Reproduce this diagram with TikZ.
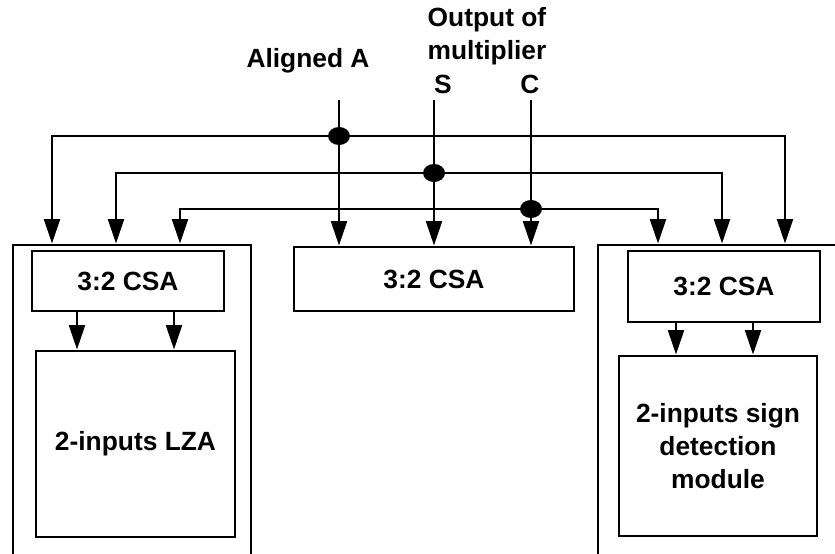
\documentclass[tikz,border=0pt]{standalone}
\usepackage{fontspec}
\setmainfont{Liberation Sans}
\usepackage{tikz}
\usetikzlibrary{arrows.meta}

\begin{document}
\begin{tikzpicture}[x=0.02cm,y=-0.02cm,line width=1.6pt,
	blk/.style={draw,rectangle,inner sep=0pt,align=center,font=\fontsize{15}{18.8}\selectfont\bfseries},
	arr/.style={-{Triangle[length=14pt,width=9pt]}},
	lbl/.style={anchor=base,inner sep=0pt,font=\fontsize{15}{18.8}\selectfont\bfseries}]
	\useasboundingbox (0,0) rectangle (835,554);
	\clip (0,0) rectangle (835,554);
				% outer frames, open at the page edge
				\node[draw,minimum width=4.76cm,minimum height=7.5cm] (lbox) at (132,432.5) {};
				\node[draw,minimum width=6.04cm,minimum height=7.5cm] (rbox) at (749,432.5) {};
				\node[blk,minimum width=3.84cm,minimum height=1.2cm] (lcsa) at (128,281) {3:2 CSA};
				\node[blk,minimum width=3.98cm,minimum height=3.72cm] (lza) at (135.5,444) {2-inputs LZA};
				\node[blk,minimum width=5.6cm,minimum height=1.28cm] (mcsa) at (434,279) {3:2 CSA};
				\node[blk,minimum width=3.84cm,minimum height=1.42cm] (rcsa) at (724,286.5) {3:2 CSA};
				\node[blk,minimum width=3.96cm,minimum height=3.6cm] (sdm) at (718,446) {2-inputs sign\\detection\\module};
				% input labels
				\node[lbl] (tal) at (308,68) {Aligned A};
				\node[lbl] (tout) at (487,27) {Output of};
				\node[lbl] (tmul) at (487,60) {multiplier};
				\node[lbl] (ts) at (443,93) {S};
				\node[lbl] (tc) at (530,93) {C};
				\coordinate (ina) at (339,100);
				\coordinate (ins) at (434,100);
				\coordinate (inc) at (531,100);
				\coordinate (ja) at (339,136);
				\coordinate (js) at (434,173);
				\coordinate (jc) at (531,209);
				\draw[arr] (ina) -- (mcsa.north -| ina);
				\draw[arr] (ins) -- (mcsa.north -| ins);
				\draw[arr] (inc) -- (mcsa.north -| inc);
				\draw[arr] (ja) -| (lbox.north -| 52,0);
				\draw[arr] (ja) -| (rbox.north -| 785,0);
				\draw[arr] (js) -| (lbox.north -| 116,0);
				\draw[arr] (js) -| (rbox.north -| 722,0);
				\draw[arr] (jc) -| (lbox.north -| 180,0);
				\draw[arr] (jc) -| (rbox.north -| 658,0);
				\foreach \x in {77,174}
				{\draw[arr] (lcsa.south -| \x,0) -- (lza.north -| \x,0);}
				\foreach \x in {676,753}
				{\draw[arr] (rcsa.south -| \x,0) -- (sdm.north -| \x,0);}
				\foreach \j in {ja,js,jc}
				{\fill (\j) ellipse[x radius=0.22cm,y radius=0.18cm];}
\end{tikzpicture}
\end{document}
